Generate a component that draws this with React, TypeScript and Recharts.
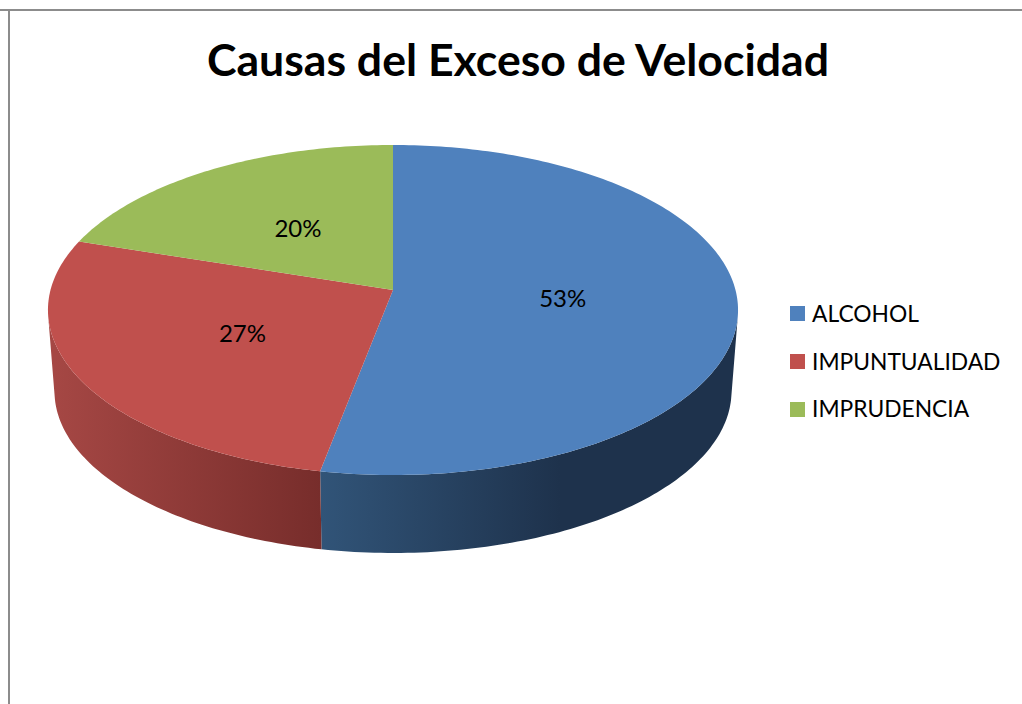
import { Cell, Legend, Pie, PieChart } from "recharts";

const categories = ["ALCOHOL", "IMPUNTUALIDAD", "IMPRUDENCIA"];
const shares = [53, 27, 20];
const colors = ["#4f81bd", "#c0504d", "#9bbb59"];
const chartTitle = "Causas del Exceso de Velocidad";

const table = categories.map((name, i) => ({ name, value: shares[i] }));

const FONT = "Lato, sans-serif";
const CX = 393;
const CY = 290;

// perspective of the tilted disc: the far edge is squeezed, the near edge stretched
const TILT = 0.1212;
const topDisc = { a: 342.5, b: 162.6, y0: CY };
const bottomDisc = { a: 336, b: 159.3, y0: 371.7 };

type Disc = typeof topDisc;
type Pt = { x: number; y: number };

function project(disc: Disc, angle: number, r = 1): Pt {
  const rad = (angle * Math.PI) / 180;
  const u = Math.cos(rad) * r;
  const v = Math.sin(rad) * r;
  const w = 1 + TILT * v;
  return { x: CX + (disc.a * u) / w, y: disc.y0 - (disc.b * v) / w };
}

function arc(disc: Disc, from: number, to: number) {
  const n = Math.max(2, Math.ceil(Math.abs(to - from)));
  const pts: Pt[] = [];
  for (let i = 0; i <= n; i++) pts.push(project(disc, from + ((to - from) * i) / n));
  return pts;
}

const toPath = (pts: Pt[]) =>
  pts.map((p, i) => `${i ? "L" : "M"}${p.x.toFixed(2)} ${p.y.toFixed(2)}`).join(" ") + " Z";

function area(pts: Pt[]) {
  let s = 0;
  pts.forEach((p, i) => {
    const q = pts[(i + 1) % pts.length];
    s += p.x * q.y - q.x * p.y;
  });
  return s / 2;
}

function TopSlice(props: any) {
  const pts = [{ x: CX, y: CY }, ...arc(topDisc, props.startAngle, props.endAngle)];
  return <path d={toPath(pts)} fill={props.fill} />;
}

// rim of the pie, only the small quads that face the viewer
function SideSlice(props: any) {
  const top = arc(topDisc, props.startAngle, props.endAngle);
  const bottom = arc(bottomDisc, props.startAngle, props.endAngle);
  const quads: string[] = [];
  for (let i = 0; i < top.length - 1; i++) {
    const quad = [top[i], top[i + 1], bottom[i + 1], bottom[i]];
    if (area(quad) < 0) quads.push(toPath(quad));
  }
  return <path d={quads.join(" ")} fill={props.fill} />;
}

function SliceLabel(props: any) {
  const p = project(topDisc, props.midAngle, 0.495);
  return (
    <text x={p.x} y={p.y} textAnchor="middle" dominantBaseline="central" fontFamily={FONT} fontSize={24} fill="#000">
      {Math.round(props.percent * 100)}%
    </text>
  );
}

function LegendList(props: any) {
  const items = props.payload.filter((item: any) => item.type !== "none");
  return (
    <div>
      {items.map((item: any) => (
        <div key={item.value} style={{ display: "flex", alignItems: "center", height: 47.7 }}>
          <span style={{ width: 15, height: 15, background: item.color, marginRight: 7 }} />
          <span style={{ fontFamily: FONT, fontSize: 22.8, color: "#000", whiteSpace: "nowrap", position: "relative", top: -1 }}>
            {item.value}
          </span>
        </div>
      ))}
    </div>
  );
}

export default function App() {
  return (
    <div style={{ position: "absolute", left: 0, top: 0, width: 1022, height: 704, overflow: "hidden", background: "#fff" }}>
      <PieChart width={1022} height={704} margin={{ top: 0, right: 0, bottom: 0, left: 0 }}>
        <defs>
          <linearGradient id="side0" gradientUnits="userSpaceOnUse" x1={321} y1={0} x2={560} y2={0}>
            <stop offset="0%" stopColor="#315478" />
            <stop offset="100%" stopColor="#1e324c" />
          </linearGradient>
          <linearGradient id="side1" gradientUnits="userSpaceOnUse" x1={55} y1={0} x2={321} y2={0}>
            <stop offset="0%" stopColor="#a54744" />
            <stop offset="100%" stopColor="#772d2b" />
          </linearGradient>
          <linearGradient id="side2" gradientUnits="userSpaceOnUse" x1={55} y1={0} x2={321} y2={0}>
            <stop offset="0%" stopColor="#7d9647" />
            <stop offset="100%" stopColor="#5d7035" />
          </linearGradient>
        </defs>
        <line x1={0} y1={10} x2={1022} y2={10} stroke="#8c8c8c" strokeWidth={2} />
        <line x1={9} y1={9} x2={9} y2={704} stroke="#8c8c8c" strokeWidth={2} />
        <text x={518} y={76} textAnchor="middle" fontFamily={FONT} fontWeight={700} fontSize={44.6} fill="#000">
          {chartTitle}
        </text>
        <Pie
          data={table}
          dataKey="value"
          nameKey="name"
          cx={CX}
          cy={CY}
          outerRadius={100}
          startAngle={90}
          endAngle={-270}
          stroke="none"
          legendType="none"
          shape={SideSlice}
          isAnimationActive={false}
        >
          {table.map((d, i) => (
            <Cell key={d.name} fill={`url(#side${i})`} />
          ))}
        </Pie>
        <Pie
          data={table}
          dataKey="value"
          nameKey="name"
          cx={CX}
          cy={CY}
          outerRadius={100}
          startAngle={90}
          endAngle={-270}
          stroke="none"
          shape={TopSlice}
          label={SliceLabel}
          labelLine={false}
          isAnimationActive={false}
        >
          {table.map((d, i) => (
            <Cell key={d.name} fill={colors[i]} />
          ))}
        </Pie>
        <Legend
          layout="vertical"
          content={LegendList}
          itemSorter={null}
          wrapperStyle={{ position: "absolute", left: 790, top: 290, width: 232, bottom: "auto", right: "auto" }}
        />
      </PieChart>
    </div>
  );
}
